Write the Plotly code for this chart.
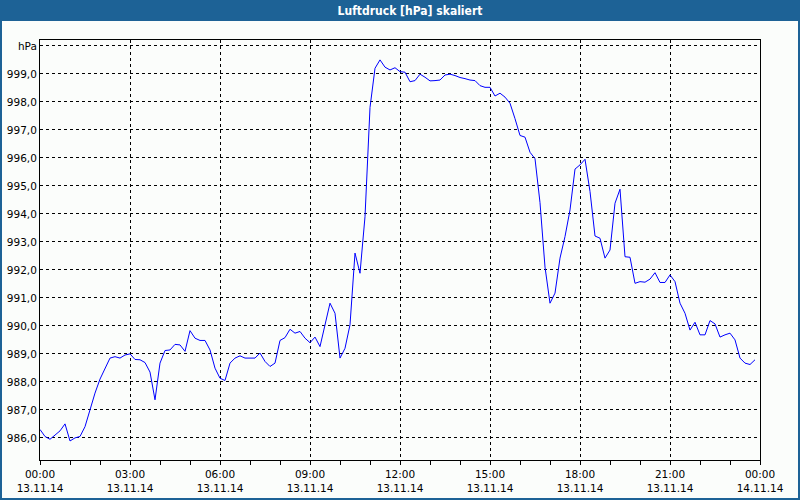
import pandas as pd
import plotly.graph_objects as go

# Luftdruck, 10-Minuten-Werte ab 13.11.14 00:00
pressure_hpa = [
    986.30, 986.05, 985.95, 986.10, 986.25, 986.50, 985.89, 986.00, 986.05, 986.40,
    987.05, 987.60, 988.10, 988.50, 988.85, 988.90, 988.85, 988.96, 989.00, 988.80,
    988.79, 988.69, 988.35, 987.36, 988.67, 989.12, 989.14, 989.34, 989.32, 989.09,
    989.83, 989.56, 989.48, 989.48, 989.14, 988.49, 988.13, 988.05, 988.67, 988.85,
    988.93, 988.85, 988.85, 988.85, 989.03, 988.73, 988.55, 988.67, 989.48, 989.58,
    989.88, 989.74, 989.80, 989.56, 989.40, 989.60, 989.26, 989.98, 990.81, 990.45,
    988.85, 989.20, 990.04, 992.60, 991.88, 993.90, 997.80, 999.20, 999.50, 999.24,
    999.14, 999.22, 999.08, 999.06, 998.72, 998.76, 998.99, 998.88, 998.75, 998.76,
    998.78, 998.96, 998.99, 998.94, 998.87, 998.83, 998.78, 998.76, 998.58, 998.52,
    998.52, 998.21, 998.31, 998.17, 997.95, 997.40, 996.80, 996.74, 996.20, 995.97,
    994.40, 992.10, 990.81, 991.17, 992.42, 993.19, 994.14, 995.60, 995.75, 995.95,
    994.80, 993.21, 993.13, 992.42, 992.71, 994.38, 994.88, 992.47, 992.45, 991.52,
    991.58, 991.56, 991.67, 991.90, 991.55, 991.55, 991.82, 991.58, 990.81, 990.45,
    989.85, 990.13, 989.68, 989.68, 990.19, 990.07, 989.60, 989.68, 989.74, 989.50,
    988.85, 988.67, 988.62, 988.79,
]
times = pd.date_range("2014-11-13 00:00", periods=len(pressure_hpa), freq="10min")

x_ticks = pd.date_range("2014-11-13 00:00", "2014-11-14 00:00", freq="3h")
x_time_labels = [t.strftime("%H:%M") for t in x_ticks]
x_date_labels = [t.strftime("%d.%m.%y") for t in x_ticks]

y_ticks = list(range(986, 1001))
y_labels = [f"{v},0" for v in y_ticks[:-1]] + ["hPa"]

FRAME_BLUE = "#1D6296"
PANEL = "#FBFDFB"
LABEL_FONT = dict(family="DejaVu Sans, Verdana, sans-serif", size=10.5, color="black")

# margins in px, used for the window frame shapes
ML, MR, MT, MB = 40, 40, 40, 40
W, H = 800, 500
pw, ph = W - ML - MR, H - MT - MB


def px_x(p):
    return (p - ML) / pw


def px_y(p):
    return 1 - (p - MT) / ph


fig = go.Figure()

fig.add_trace(go.Scatter(
    x=times,
    y=pressure_hpa,
    mode="lines",
    line=dict(color="#0000FF", width=1),
    hoverinfo="x+y",
    showlegend=False,
))

# dummy trace so the second (date) axis gets drawn
fig.add_trace(go.Scatter(
    x=times,
    y=pressure_hpa,
    xaxis="x2",
    mode="none",
    hoverinfo="skip",
    showlegend=False,
))

fig.update_layout(
    width=W,
    height=H,
    margin=dict(l=ML, r=MR, t=MT, b=MB, autoexpand=False),
    paper_bgcolor=FRAME_BLUE,
    plot_bgcolor=PANEL,
    title=dict(
        text="Luftdruck [hPa] skaliert",
        x=410 / W,
        xanchor="center",
        y=1 - 10.5 / H,
        yanchor="middle",
        font=dict(family="Liberation Sans Narrow, DejaVu Sans Condensed, sans-serif",
                  size=12, color="white", weight="bold"),
    ),
    xaxis=dict(
        range=[x_ticks[0], x_ticks[-1]],
        tickvals=x_ticks,
        ticktext=x_time_labels,
        tickfont=LABEL_FONT,
        ticks="outside",
        ticklen=4,
        tickcolor="black",
        showgrid=True,
        gridcolor="black",
        gridwidth=1,
        griddash="3px,3px",
        showline=True,
        linecolor="black",
        linewidth=1,
        mirror=True,
        zeroline=False,
        automargin=False,
        minor=dict(dtick=3600000, ticks="outside", ticklen=4, tickcolor="black", showgrid=False),
    ),
    xaxis2=dict(
        overlaying="x",
        matches="x",
        anchor="y",
        side="bottom",
        tickvals=x_ticks,
        ticktext=x_date_labels,
        tickfont=LABEL_FONT,
        ticks="",
        ticklabelstandoff=20,
        showgrid=False,
        showline=False,
        zeroline=False,
        automargin=False,
    ),
    yaxis=dict(
        range=[985.21, 1000.21],
        tickvals=y_ticks,
        ticktext=y_labels,
        tickfont=LABEL_FONT,
        ticks="",
        showgrid=True,
        gridcolor="black",
        gridwidth=1,
        griddash="3px,3px",
        showline=True,
        linecolor="black",
        linewidth=1,
        mirror=True,
        zeroline=False,
        automargin=False,
    ),
    shapes=[
        # light window body inside the blue frame
        dict(type="rect", xref="paper", yref="paper",
             x0=px_x(2), x1=px_x(W - 2), y0=px_y(H - 2), y1=px_y(21),
             fillcolor=PANEL, line=dict(width=0), layer="below"),
    ],
)

# the page's default body margin would push the 800x500 figure off screen
fig.write_html(
    "out.html",
    config={"displayModeBar": False},
    post_script="document.body.style.margin='0';document.body.style.overflow='hidden';",
)
